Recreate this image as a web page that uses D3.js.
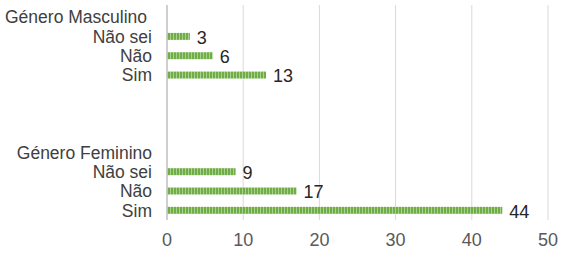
<!DOCTYPE html>
<html>
<head>
<meta charset="utf-8">
<script src="https://cdn.jsdelivr.net/npm/d3@7"></script>
<style>
  body { margin: 0; background: #fff; }
  text { font-family: "Liberation Sans", Arial, sans-serif; }
</style>
</head>
<body>
<svg id="chart" width="565" height="253"></svg>
<script>
// rows top to bottom; empty strings are spacer rows
var rowLabels = ["Género Masculino", "Não sei", "Não", "Sim", "", "", "", "Género Feminino", "Não sei", "Não", "Sim"];
var rowValues = [null, 3, 6, 13, null, null, null, null, 9, 17, 44];
var xTicks = [0, 10, 20, 30, 40, 50];

var svg = d3.select("#chart");
var plotLeft = 167, plotRight = 548, plotTop = 7.4, plotBottom = 220;

var x = d3.scaleLinear().domain([0, 50]).range([plotLeft, plotRight]);
var y = d3.scaleBand().domain(d3.range(rowLabels.length)).range([plotTop, plotBottom]).paddingInner(0.64).paddingOuter(0.32);

// striped fill like the original
var pat = svg.append("defs").append("pattern")
    .attr("id", "stripes")
    .attr("patternUnits", "userSpaceOnUse")
    .attr("width", 3).attr("height", 10);
pat.append("rect").attr("width", 3).attr("height", 10).attr("fill", "#70ad47");
pat.append("rect").attr("x", 2).attr("width", 1).attr("height", 10).attr("fill", "#a9d18e");

// gridlines
svg.append("g").selectAll("line")
  .data(xTicks.slice(1))
  .enter().append("line")
    .attr("x1", d => x(d)).attr("x2", d => x(d))
    .attr("y1", 5).attr("y2", plotBottom)
    .attr("stroke", "#d9d9d9").attr("stroke-width", 1);

// x tick labels
svg.append("g").selectAll("text")
  .data(xTicks)
  .enter().append("text")
    .attr("x", d => x(d))
    .attr("y", 246)
    .attr("text-anchor", "middle")
    .attr("font-size", 18)
    .attr("fill", "#595959")
    .text(d => d);

var rows = rowLabels.map((d, i) => ({label: d, value: rowValues[i], i: i}));
var bandMid = d => y(d.i) + y.bandwidth() / 2;

// bars
svg.append("g").selectAll("rect")
  .data(rows.filter(d => d.value != null))
  .enter().append("rect")
    .attr("x", x(0))
    .attr("y", d => y(d.i))
    .attr("width", d => x(d.value) - x(0))
    .attr("height", y.bandwidth())
    .attr("fill", "url(#stripes)");

// value labels
svg.append("g").selectAll("text")
  .data(rows.filter(d => d.value != null))
  .enter().append("text")
    .attr("x", d => x(d.value) + 7)
    .attr("y", d => bandMid(d))
    .attr("dy", "0.4em")
    .attr("font-size", 18)
    .attr("fill", "#262626")
    .text(d => d.value);

// category labels, right aligned; the widest one sits at the left edge
svg.append("g").selectAll("text")
  .data(rows.filter(d => d.label !== ""))
  .enter().append("text")
    .attr("x", 152)
    .attr("y", d => bandMid(d))
    .attr("dy", "0.36em")
    .attr("font-size", 17.5)
    .attr("fill", "#404040")
    .attr("text-anchor", "end")
    .text(d => d.label)
    .each(function() {
      var w = this.getComputedTextLength();
      if (152 - w < 12) d3.select(this).attr("x", 5).attr("text-anchor", "start");
    });

// vertical axis line
svg.append("line")
  .attr("x1", x(0)).attr("x2", x(0))
  .attr("y1", 5).attr("y2", plotBottom)
  .attr("stroke", "#bfbfbf").attr("stroke-width", 1.5);
</script>
</body>
</html>
